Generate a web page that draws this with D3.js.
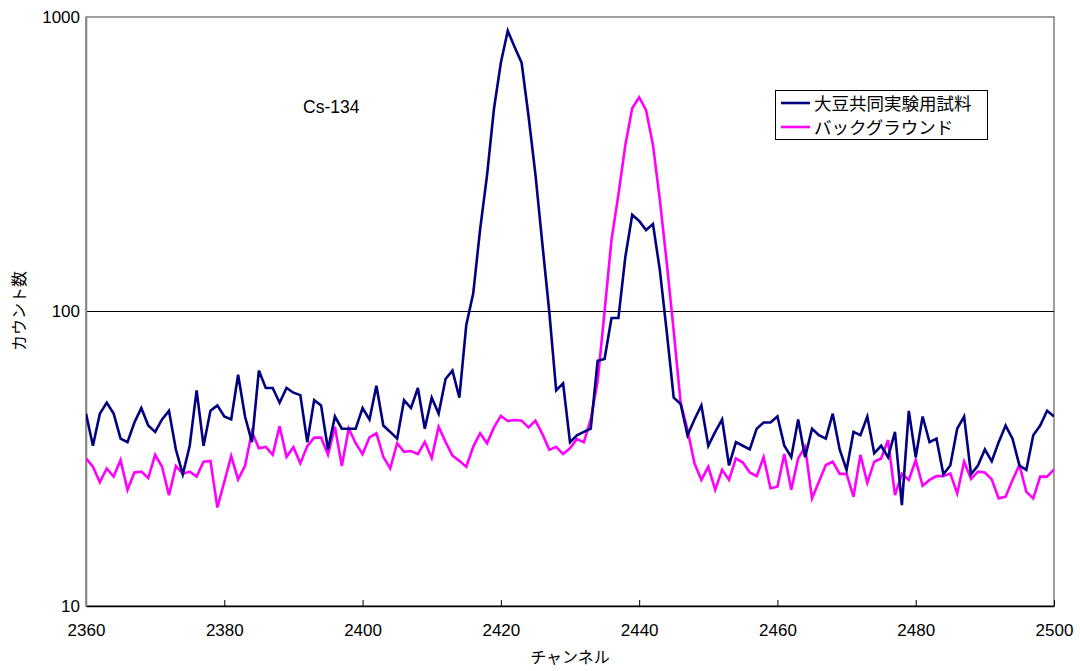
<!DOCTYPE html>
<html><head><meta charset="utf-8">
<script src="https://cdn.jsdelivr.net/npm/d3@7"></script>
<style>
html,body{margin:0;padding:0;background:#fff;}
text{font-family:"Liberation Sans","Noto Sans CJK JP",sans-serif;}
</style></head>
<body><svg id="c" width="1080" height="671"></svg>
<script>
const channelStart = 2360;
const sampleCounts = [45,35,45,49,45,37,36,42,47,41,39,43,46,34,28,35,54,35,46,48,
44,43,61,44,36,63,55,55,49,55,53,52,36,50,48,34,44,40,40,40,
47,43,56,41,39,37,50,47,55,40,51,45,59,63,51,90,115,190,290,487,
699,898,790,700,461,292,170,100,54,57,36,38,39,40,68,69,95,95,153,213,
203,189,198,138,85,51,48.5,38,43,48,35,39,43,30,36,35,34,40,42,42,
44,35,32,43,32,40,38,37,45,34,29,39,38,44,33,35,32,39,22,46,
32,44,36,37,28,30,40,44,28,30,34,31,36,41,37,30,29,38,41,46,44];
const backgroundCounts = [31.7,29.7,26.3,29.3,27.5,31.3,24.8,28.4,28.6,27.2,32.6,29.7,23.8,29.9,28.1,28.6,27.5,30.9,31.1,21.6,
26.4,32.3,26.9,29.9,39.1,34.3,34.7,32.6,40.8,32.1,34.6,30.5,34.9,37.3,37.3,32.6,40.6,29.9,40.1,35.7,
32.8,37.4,38.6,32.1,29.3,35.7,33.4,33.6,32.8,36.1,31.8,40.6,36.1,32.4,31.1,29.7,34.7,38.6,35.7,40.4,
44.2,42.5,42.8,42.6,40.4,42.6,38.4,33.9,34.7,32.8,34.3,36.9,36,43,58,100,175,249,367,490,
534,483,367,239,146,86,49,39.6,30.5,26.8,29.7,24.8,29,26.8,31.7,30.7,28.4,27.6,32,25.1,
25.4,32.8,24.8,31.7,34.7,23.2,26.4,30.1,30.9,28.1,28.1,23.5,32.6,26.2,30.9,31.7,36.6,23.8,28.1,26.8,
31.3,25.6,26.8,27.6,27.6,28.2,24.1,30.9,27,28.6,28.4,26.9,23.2,23.5,26.8,30.1,24.4,23.2,27.5,27.5,29.1];
const xTicks = [2360,2380,2400,2420,2440,2460,2480,2500];
const yTicks = [10,100,1000];
const seriesNames = ["大豆共同実験用試料","バックグラウンド"];
const seriesColors = ["#000080","#FF00FF"];

const svg = d3.select("#c");
const L=86,R=1054,T=17,B=606;
const x = d3.scaleLinear().domain([2360,2500]).range([L,R]);
const y = d3.scaleLog().domain([10,1000]).range([B,T]);

// frame
svg.append("rect").attr("x",L).attr("y",T).attr("width",R-L).attr("height",B-T)
  .attr("fill","none").attr("stroke","#808080").attr("stroke-width",1.5);
// gridline at 100
svg.append("line").attr("x1",L).attr("x2",R).attr("y1",y(100)).attr("y2",y(100))
  .attr("stroke","#000").attr("stroke-width",1);

// x axis
const xAxis = d3.axisBottom(x).tickValues(xTicks).tickSizeInner(-6).tickSizeOuter(0).tickPadding(18).tickFormat(d3.format("d"));
const gx = svg.append("g").attr("transform",`translate(0,${B})`).call(xAxis);
gx.select(".domain").attr("stroke","#000").attr("stroke-width",1.5);
gx.selectAll(".tick line").attr("stroke","#000");
gx.selectAll("text").attr("font-size",17).attr("fill","#000");

// y axis
const yAxis = d3.axisLeft(y).tickValues(yTicks).tickSizeInner(0).tickSizeOuter(0).tickPadding(6).tickFormat(d3.format("d"));
const gy = svg.append("g").attr("transform",`translate(${L},0)`).call(yAxis);
gy.select(".domain").attr("stroke","#808080").attr("stroke-width",1.5);
gy.selectAll("text").attr("font-size",17).attr("fill","#000");

// lines
const line = d3.line().x((d,i)=>x(channelStart+i)).y(d=>y(d));
svg.append("clipPath").attr("id","pc").append("rect").attr("x",L).attr("y",T).attr("width",R-L).attr("height",B-T);
[backgroundCounts, sampleCounts].forEach((arr,k)=>{
  svg.append("path").datum(arr).attr("d",line).attr("fill","none")
    .attr("stroke", k===0?seriesColors[1]:seriesColors[0]).attr("stroke-width",2.6)
    .attr("stroke-linejoin","miter").attr("clip-path","url(#pc)");
});

// annotation
svg.append("text").attr("x",303).attr("y",113).attr("font-size",17.5).text("Cs-134");

// legend
const lg = svg.append("g");
lg.append("rect").attr("x",775.5).attr("y",90.5).attr("width",212).attr("height",49)
  .attr("fill","#fff").attr("stroke","#000").attr("stroke-width",1);
seriesNames.forEach((n,i)=>{
  const yy = 103 + i*24;
  lg.append("line").attr("x1",781).attr("x2",810).attr("y1",yy).attr("y2",yy)
    .attr("stroke",seriesColors[i]).attr("stroke-width",2.6);
  lg.append("text").attr("x",814).attr("y",yy+6.5).attr("font-size",17.5)
    .attr("font-family","Noto Sans CJK JP").text(n);
});

// axis titles
svg.append("text").attr("x",570).attr("y",663).attr("text-anchor","middle")
  .attr("font-size",16).attr("font-family","Noto Sans CJK JP").text("チャンネル");
svg.append("text").attr("transform","translate(25,311) rotate(-90)").attr("text-anchor","middle")
  .attr("font-size",16).attr("font-family","Noto Sans CJK JP").text("カウント数");
</script></body></html>
